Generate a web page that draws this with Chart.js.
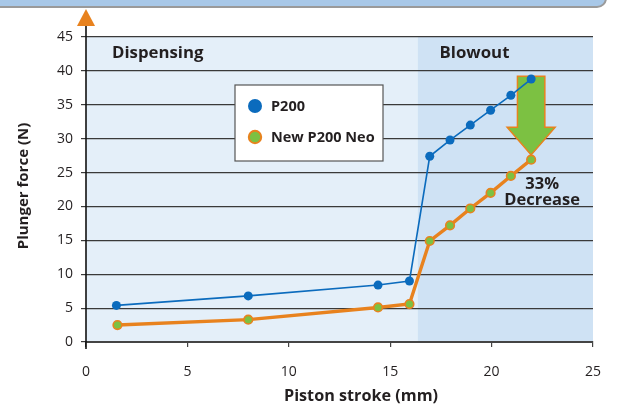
<!DOCTYPE html>
<html><head><meta charset="utf-8">
<script src="https://cdn.jsdelivr.net/npm/chart.js@4"></script>
<style>html,body{margin:0;padding:0;background:#fff}#wrap{width:618px;height:412px;position:relative}</style>
</head><body><div id="wrap"><canvas id="c" width="618" height="412"></canvas></div>
<script>
// ---- data ----
const strokeP200 = [1.5, 8.0, 14.4, 15.95, 16.95, 17.95, 18.95, 19.95, 20.95, 21.95];
const forceP200  = [5.4, 6.8, 8.4, 9.0, 27.4, 29.8, 32.0, 34.2, 36.4, 38.8];
const strokeNeo  = [1.55, 8.0, 14.4, 15.95, 16.95, 17.95, 18.95, 19.95, 20.95, 21.95];
const forceNeo   = [2.5, 3.3, 5.1, 5.6, 14.9, 17.2, 19.7, 22.0, 24.5, 26.9];
const seriesNames = ['P200', 'New P200 Neo'];
const regionNames = ['Dispensing', 'Blowout'];
const blowoutStart = 16.35;
const yTicks = [0, 5, 10, 15, 20, 25, 30, 35, 40, 45];
const xTicks = [0, 5, 10, 15, 20, 25];
const xTitle = 'Piston stroke (mm)';
const yTitle = 'Plunger force (N)';
const decreaseLabel = ['33%', 'Decrease'];
const arrowFrom = {x: 21.95, y: 39.2};
const arrowTo   = {x: 21.95, y: 27.6};

const FONT = "'Open Sans', 'Noto Sans', sans-serif";
const BLUE = '#0b6bbd', ORANGE = '#e8821e', GREEN = '#7cc142';

const pts = (xs, ys) => xs.map((x, i) => ({x, y: ys[i]}));

const deco = {
  id: 'deco',
  beforeDraw(chart) {
    const {ctx, chartArea: a, scales: {x}} = chart;
    ctx.save();
    // top banner
    ctx.beginPath();
    ctx.roundRect(-12, -12, 618, 19, 9);
    ctx.fillStyle = '#a8c8e8'; ctx.fill();
    ctx.lineWidth = 2; ctx.strokeStyle = '#9a9a9a'; ctx.stroke();
    // region backgrounds
    const bx = x.getPixelForValue(blowoutStart);
    ctx.fillStyle = '#e4eff9';
    ctx.fillRect(a.left, a.top, bx - a.left, a.bottom - a.top);
    ctx.fillStyle = '#cfe2f4';
    ctx.fillRect(bx, a.top, a.right - bx, a.bottom - a.top);
    ctx.restore();
  },
  beforeDatasetsDraw(chart) {
    const {ctx, scales: {x, y}} = chart;
    const cx = x.getPixelForValue(arrowFrom.x);
    const y0 = y.getPixelForValue(arrowFrom.y);
    const y1 = y.getPixelForValue(arrowTo.y);
    const sw = 13.7, hw = 24, hl = 27.6;
    ctx.save();
    ctx.beginPath();
    ctx.moveTo(cx - sw, y0);
    ctx.lineTo(cx + sw, y0);
    ctx.lineTo(cx + sw, y1 - hl);
    ctx.lineTo(cx + hw, y1 - hl);
    ctx.lineTo(cx, y1);
    ctx.lineTo(cx - hw, y1 - hl);
    ctx.lineTo(cx - sw, y1 - hl);
    ctx.closePath();
    ctx.fillStyle = GREEN; ctx.fill();
    ctx.lineWidth = 1.5; ctx.strokeStyle = ORANGE; ctx.lineJoin = 'miter'; ctx.stroke();
    ctx.restore();
  },
  afterDatasetsDraw(chart) {
    const {ctx, chartArea: a, scales: {x, y}} = chart;
    ctx.save();
    ctx.fillStyle = '#231f20';
    ctx.textBaseline = 'alphabetic';
    // region labels
    ctx.font = `bold 16.8px ${FONT}`;
    ctx.textAlign = 'left';
    ctx.fillText(regionNames[0], a.left + 26, a.top + 21);
    ctx.fillText(regionNames[1], x.getPixelForValue(blowoutStart) + 22, a.top + 21);
    // decrease label
    const cx = x.getPixelForValue(arrowTo.x) + 11;
    const ty = y.getPixelForValue(arrowTo.y);
    ctx.font = `bold 16.5px ${FONT}`;
    ctx.textAlign = 'center';
    ctx.fillText(decreaseLabel[0], cx, ty + 34);
    ctx.fillText(decreaseLabel[1], cx, ty + 50);
    // legend
    ctx.fillStyle = '#ffffff';
    ctx.fillRect(235, 85, 148, 76);
    ctx.lineWidth = 1.2; ctx.strokeStyle = '#555';
    ctx.strokeRect(235, 85, 148, 76);
    const ds = chart.data.datasets;
    [106, 137].forEach((ly, i) => {
      ctx.beginPath();
      ctx.arc(255, ly, i ? 6.2 : 7, 0, Math.PI * 2);
      ctx.fillStyle = ds[i].pointBackgroundColor; ctx.fill();
      if (i) { ctx.lineWidth = 2; ctx.strokeStyle = ds[i].pointBorderColor; ctx.stroke(); }
      ctx.fillStyle = '#231f20';
      ctx.font = `bold 14.5px ${FONT}`;
      ctx.textAlign = 'left';
      ctx.fillText(ds[i].label, 271, ly + 5);
    });
    // y axis line + arrow head
    ctx.beginPath();
    ctx.moveTo(a.left, 25); ctx.lineTo(a.left, a.bottom + 7);
    ctx.lineWidth = 1.6; ctx.strokeStyle = '#111'; ctx.stroke();
    ctx.beginPath();
    ctx.moveTo(a.left, 9); ctx.lineTo(a.left + 9, 26); ctx.lineTo(a.left - 9, 26); ctx.closePath();
    ctx.fillStyle = ORANGE; ctx.fill();
    // axis titles
    ctx.fillStyle = '#231f20';
    ctx.font = `bold 16.2px ${FONT}`;
    ctx.textAlign = 'center'; ctx.textBaseline = 'middle';
    ctx.fillText(xTitle, 361, 396);
    ctx.font = `bold 15px ${FONT}`;
    ctx.translate(24, 186); ctx.rotate(-Math.PI / 2);
    ctx.fillText(yTitle, 0, 0);
    ctx.restore();
  }
};

new Chart(document.getElementById('c'), {
  type: 'scatter',
  data: {
    datasets: [
      { label: seriesNames[0], data: pts(strokeP200, forceP200), showLine: true,
        borderColor: BLUE, borderWidth: 1.6, pointBackgroundColor: BLUE, pointBorderColor: BLUE,
        pointRadius: 4.5, pointBorderWidth: 0, tension: 0 },
      { label: seriesNames[1], data: pts(strokeNeo, forceNeo), showLine: true,
        borderColor: ORANGE, borderWidth: 3.4, pointBackgroundColor: GREEN, pointBorderColor: ORANGE,
        pointRadius: 4.3, pointBorderWidth: 1.6, tension: 0 }
    ]
  },
  options: {
    responsive: false, animation: false, devicePixelRatio: 1,
    layout: { padding: { left: 0, right: 25, top: 37, bottom: 0 } },
    plugins: { legend: { display: false }, tooltip: { enabled: false } },
    font: { family: FONT },
    scales: {
      x: {
        type: 'linear', min: 0, max: 25,
        afterFit(s) { s.height = 70; },
        afterBuildTicks(s) { s.ticks = xTicks.map(v => ({value: v})); },
        grid: { drawOnChartArea: false, drawTicks: true, tickLength: 5, color: '#444', lineWidth: 1.2 },
        border: { display: true, color: '#444', width: 2 },
        ticks: { color: '#231f20', font: { family: FONT, size: 14 }, padding: 17, maxRotation: 0 }
      },
      y: {
        type: 'linear', min: 0, max: 45,
        afterFit(s) { s.width = 86; },
        afterBuildTicks(s) { s.ticks = yTicks.map(v => ({value: v})); },
        grid: { drawOnChartArea: true, drawTicks: true, tickLength: 5, color: '#3a3a3a', lineWidth: 1.2 },
        border: { display: false },
        ticks: { color: '#231f20', font: { family: FONT, size: 14 }, padding: 8 }
      }
    }
  },
  plugins: [deco]
});
</script>
</body></html>
